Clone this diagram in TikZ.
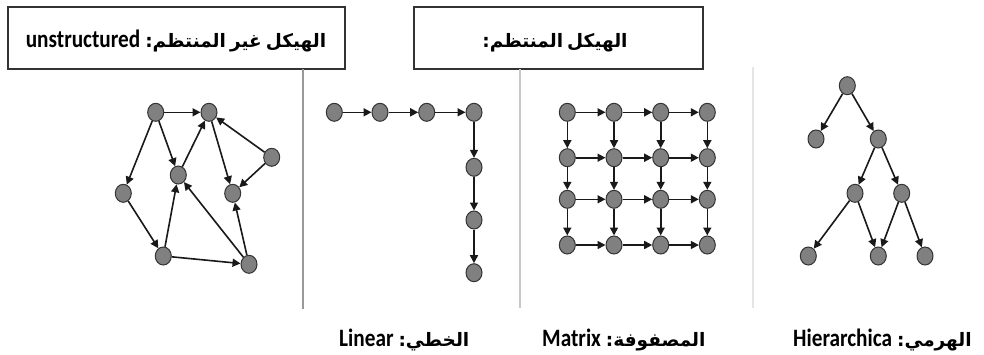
\documentclass[tikz,border=0pt]{standalone}
\usepackage{fontspec}
\usetikzlibrary{arrows.meta,shapes.geometric}
\TeXXeTstate=1
\newfontfamily\arabicfont[Script=Arabic]{DejaVu Sans}
\newfontfamily\latinfont[FakeStretch=0.85]{Carlito}
\newcommand{\arfont}{\arabicfont\bfseries\fontsize{18.5pt}{22pt}\selectfont\spaceskip=0.22em\relax}
\newcommand{\lafont}{\latinfont\bfseries\fontsize{25pt}{28pt}\selectfont}

\begin{document}
\begin{tikzpicture}[x=1pt,y=-1pt,
  vertex/.style={ellipse, draw=black!80, fill=black!50, line width=1pt,
                 minimum width=16pt, minimum height=18pt, inner sep=0pt},
  link/.style={draw=black!90, line width=1.6pt,
               -{Triangle[length=8pt,width=8pt]}},
  titlebox/.style={draw=black!80, line width=1.1pt, inner sep=0pt},
  divider/.style={line width=1.6pt},
  caption/.style={anchor=base west, inner sep=0pt}
]
\useasboundingbox[fill=white] (0,0) rectangle (984,354);

% title boxes
\node[titlebox, minimum width=337pt, minimum height=62pt] (boxU) at (176.5,38) {};
\node[titlebox, minimum width=289pt, minimum height=62pt] (boxS) at (558.5,38) {};
\node[caption, anchor=base] (tU) at (176,47)
  {\arfont\beginR الهيكل غير المنتظم:\kern5pt\beginL{\lafont unstructured}\endL\endR};
\node[caption, anchor=base] (tS) at (555,47) {\arfont\beginR الهيكل المنتظم:\endR};

% dividers
\draw[divider, black!40] (303,69) -- (303,309);
\draw[divider, black!22] (520,69) -- (520,308);
\draw[divider, black!10] (753,67) -- (753,308);

% unstructured graph
\node[vertex] (u1) at (155.7,112.3) {};
\node[vertex] (u2) at (209,112.3) {};
\node[vertex] (u3) at (271.7,157.3) {};
\node[vertex] (u4) at (178.3,175) {};
\node[vertex] (u5) at (232.7,193.3) {};
\node[vertex] (u6) at (123.3,193.3) {};
\node[vertex] (u7) at (163.3,256) {};
\node[vertex] (u8) at (249,264.3) {};
\foreach \a/\b in {u1/u2,u1/u6,u1/u4,u4/u2,u2/u5,u3/u2,u3/u5,u6/u7,u7/u4,u7/u8,u8/u4,u8/u5}
  \draw[link] (\a) -- (\b);

% linear
\node[vertex] (l1) at (334.3,112.3) {};
\node[vertex] (l2) at (380,112.3) {};
\node[vertex] (l3) at (426.7,112.3) {};
\node[vertex] (l4) at (474,112.3) {};
\node[vertex] (l5) at (474,167.3) {};
\node[vertex] (l6) at (474,220) {};
\node[vertex] (l7) at (474,272.7) {};
\foreach \a/\b in {l1/l2,l2/l3,l3/l4,l4/l5,l5/l6,l6/l7}
  \draw[link] (\a) -- (\b);

% matrix
\foreach \c/\x in {1/567.3,2/614,3/660.7,4/707.3}
  \foreach \r/\y in {1/112.3,2/157.7,3/199.3,4/245}
    \node[vertex] (m\r\c) at (\x,\y) {};
\foreach \r in {1,...,4}
  \foreach \c/\n in {1/2,2/3,3/4}
    \draw[link] (m\r\c) -- (m\r\n);
\foreach \c in {1,...,4}
  \foreach \r/\n in {1/2,2/3,3/4}
    \draw[link] (m\r\c) -- (m\n\c);

% hierarchical
\node[vertex] (h1) at (847.3,85.7) {};
\node[vertex] (h2) at (816,139) {};
\node[vertex] (h3) at (878.3,139) {};
\node[vertex] (h4) at (855,193.3) {};
\node[vertex] (h5) at (901.7,193.3) {};
\node[vertex] (h6) at (808.3,256) {};
\node[vertex] (h7) at (878.3,256) {};
\node[vertex] (h8) at (925,256) {};
\foreach \a/\b in {h1/h2,h1/h3,h3/h4,h3/h5,h4/h6,h4/h7,h5/h7,h5/h8}
  \draw[link] (\a) -- (\b);

% captions
\node[caption] (cL) at (339,346)
  {\arfont\beginR الخطي:\kern5pt\beginL{\lafont Linear}\endL\endR};
\node[caption] (cM) at (542,346)
  {\arfont\beginR المصفوفة:\kern5pt\beginL{\lafont Matrix}\endL\endR};
\node[caption] (cH) at (793,346)
  {\arfont\beginR الهرمي:\kern5pt\beginL{\lafont Hierarchica}\endL\endR};
\end{tikzpicture}
\end{document}
